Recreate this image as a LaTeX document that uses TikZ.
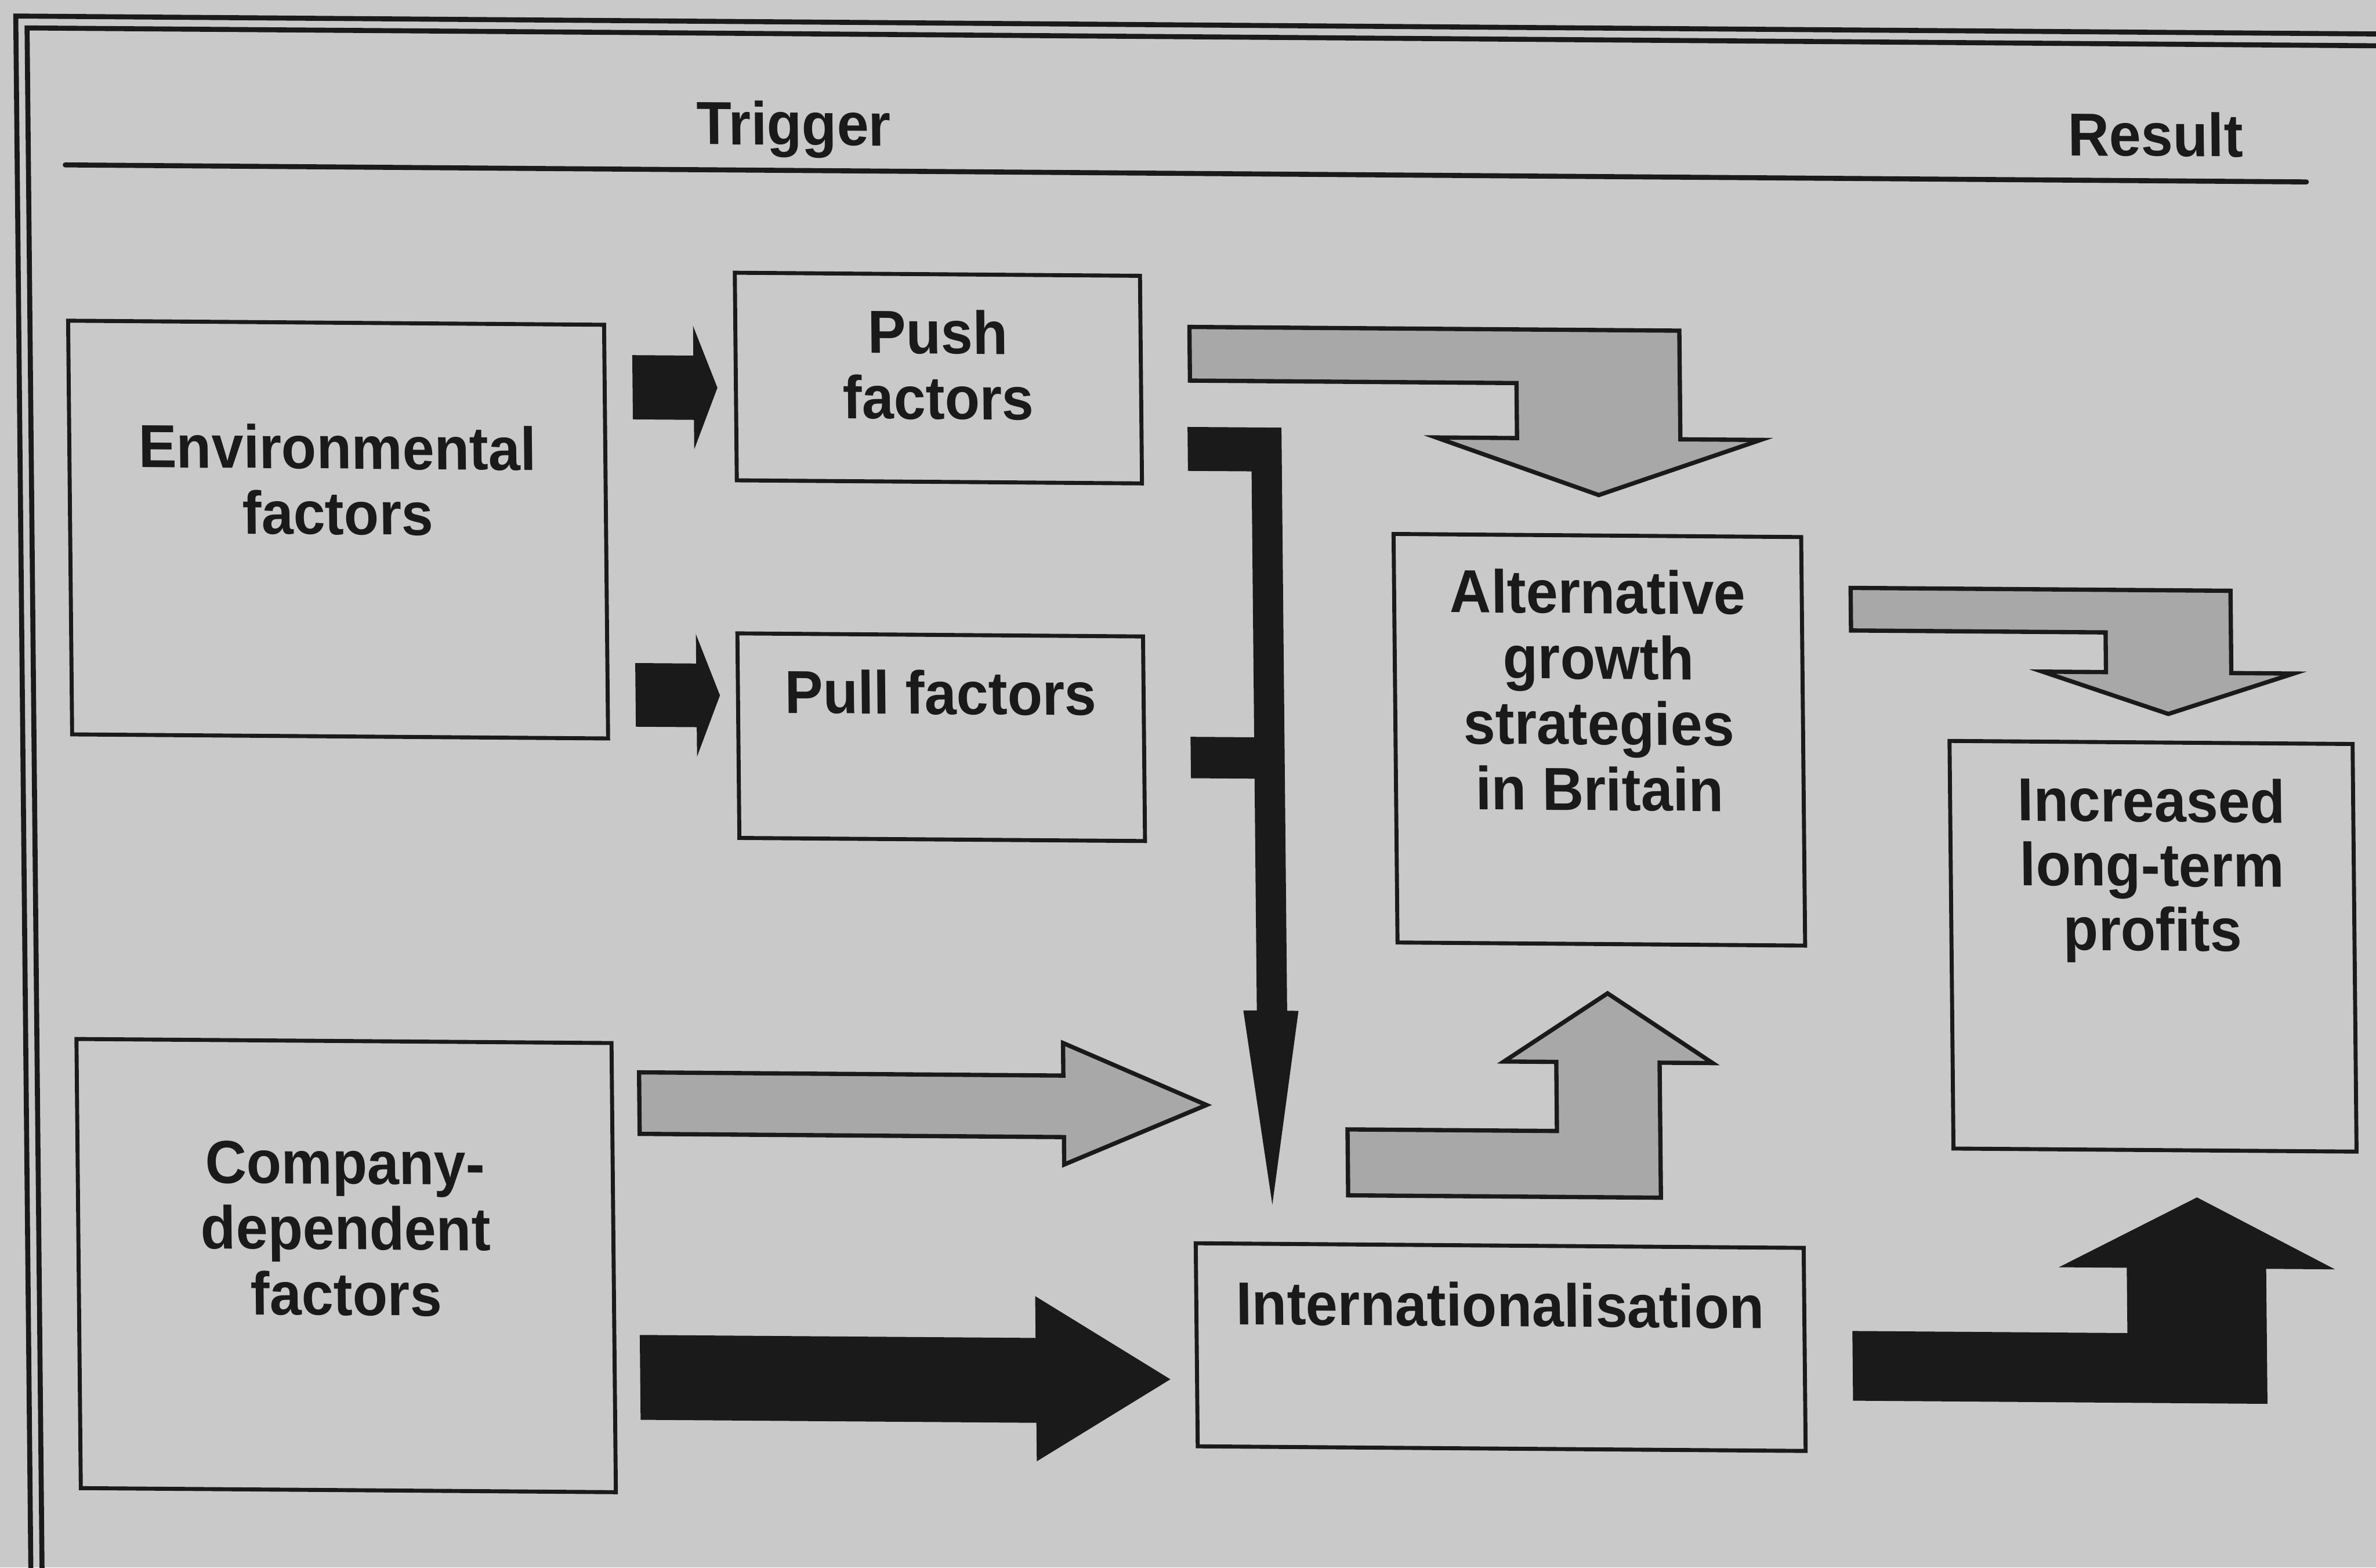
\documentclass[tikz,border=0pt]{standalone}
\usepackage{fontspec}
\newfontfamily\labelfont{Liberation Sans}[FakeStretch=0.943]
\usetikzlibrary{calc}
\definecolor{paper}{RGB}{201,201,201}
\definecolor{ink}{RGB}{26,26,26}
\definecolor{stipple}{RGB}{168,168,168}

\begin{document}
\begin{tikzpicture}[x=0.1mm,y=-0.1mm,
  box/.style={draw=ink, line width=0.75pt, rectangle, inner sep=0pt},
  lbl/.style={anchor=north, inner sep=0pt, align=center, text=ink,
    font=\labelfont\bfseries\fontsize{11.4pt}{12.33pt}\selectfont},
  greyblock/.style={fill=stipple, draw=ink, line width=0.8pt, line join=miter},
  blackblock/.style={fill=ink},
  frameline/.style={draw=ink, line width=0.94pt},
  ]
% page
\useasboundingbox (0,0) rectangle (1568,1034.4);
\fill[paper] (0,0) rectangle (1568,1034.4);
\clip (0,0) rectangle (1568,1034.4);

\begin{scope}[cm={1,-0.0076,-0.0097,1,(0,0)}, every node/.append style={transform shape}]
% double frame
\draw[frameline] (10.3,1100) -- (10.3,10.5) -- (1700,10.5);
\draw[frameline] (17.7,1100) -- (17.7,18.3) -- (1700,18.3);

% column headings
\node[lbl] (trig) at (523.2,62) {Trigger};
\node[lbl] (res) at (1421.8,62.5) {Result};
\draw[frameline, line cap=round] (42,108.5) -- (1521,108.5);

% boxes
\node[box, minimum width=35.37mm, minimum height=27.30mm] (env)  at (219.75,347.8) {};
\node[box, minimum width=26.74mm, minimum height=13.70mm] (push) at (616.9,244.8) {};
\node[box, minimum width=26.77mm, minimum height=13.50mm] (pull) at (616.45,481.8) {};
\node[box, minimum width=35.31mm, minimum height=29.64mm] (comp) at (220.35,833.5) {};
\node[box, minimum width=26.90mm, minimum height=26.96mm] (alt)  at (1050.8,480.2) {};
\node[box, minimum width=26.60mm, minimum height=26.90mm] (inc)  at (1414.9,613.7) {};
\node[box, minimum width=40.12mm, minimum height=13.40mm] (intl) at (981.8,881.5) {};

% box texts
\node[lbl] (envT)  at ($(env.north)+(0,68)$)  {Environmental\\factors};
\node[lbl] (pushT) at ($(push.north)+(0,24)$) {Push\\factors};
\node[lbl] (pullT) at ($(pull.north)+(0,24)$) {Pull factors};
\node[lbl] (compT) at ($(comp.north)+(0,67)$) {Company-\\dependent\\factors};
\node[lbl] (altT)  at ($(alt.north)+(0,23)$)  {Alternative\\growth\\strategies\\in Britain};
\node[lbl, font=\labelfont\bfseries\fontsize{11.4pt}{12.1pt}\selectfont] (incT)
  at ($(inc.north)+(0,24)$)  {Increased\\long-term\\profits};
\node[lbl] (intlT) at ($(intl.north)+(0,25)$) {Internationalisation};

% small black arrows: environment -> push / pull
\fill[blackblock] (415,231.2) -- (455.3,231.2) -- (455.3,211.6) -- (471,252.3)
  -- (455.3,293.1) -- (455.3,273.6) -- (415,273.6) -- cycle;
\fill[blackblock] (415,434.4) -- (455.2,434.4) -- (455.2,415) -- (470.7,455.3)
  -- (455.2,495.8) -- (455.2,476.4) -- (415,476.4) -- cycle;

% grey bent arrow: push -> alternative strategies
\filldraw[greyblock] (782.9,209.8) -- (1106.2,209.8) -- (1106.2,281.5) -- (1159.2,281.5)
  -- (1052,318.7) -- (945,281.5) -- (998.4,281.5) -- (998.4,245.2) -- (782.9,245.2) -- cycle;

% black collector: push + pull -> internationalisation
\fill[blackblock] (781,275.8) -- (843,275.8) -- (843,660.6) -- (850.5,660.6) -- (832,788.6)
  -- (814.1,660.6) -- (823,660.6) -- (823,507.6) -- (781,507.6) -- (781,480.3)
  -- (823,480.3) -- (823,304.8) -- (781,304.8) -- cycle;

% company-dependent factors: grey and black arrows
\filldraw[greyblock] (414.9,704.5) -- (694.9,704.5) -- (694.9,683) -- (789.2,723.2)
  -- (694.9,763.2) -- (694.9,745.1) -- (414.9,745.1) -- cycle;
\fill[blackblock] (413.7,877.8) -- (674.9,877.8) -- (674.9,850.2) -- (763.6,904.4)
  -- (674.9,959.2) -- (674.9,933.8) -- (413.7,933.8) -- cycle;

% grey bent arrow: internationalisation -> alternative strategies
\filldraw[greyblock] (882.1,738.6) -- (1020.3,738.6) -- (1020.3,693) -- (985.8,693)
  -- (1054.6,647.5) -- (1123.5,693) -- (1088.5,693) -- (1088.5,782.1) -- (882.1,782.1) -- cycle;

% grey bent arrow: alternative strategies -> profits
\filldraw[greyblock] (1217.6,378.7) -- (1468.3,378.7) -- (1468.3,433) -- (1509.5,433)
  -- (1426.5,460.3) -- (1343.7,433) -- (1385.6,433) -- (1385.6,406.8) -- (1217.6,406.8) -- cycle;

% black bent arrow: internationalisation -> profits
\fill[blackblock] (1214,869.1) -- (1395.5,869.1) -- (1395.5,826) -- (1350.7,826)
  -- (1442.3,779.2) -- (1532.9,826) -- (1487.5,826) -- (1487.5,915.1) -- (1214,915.1) -- cycle;
\end{scope}
\end{tikzpicture}
\end{document}
